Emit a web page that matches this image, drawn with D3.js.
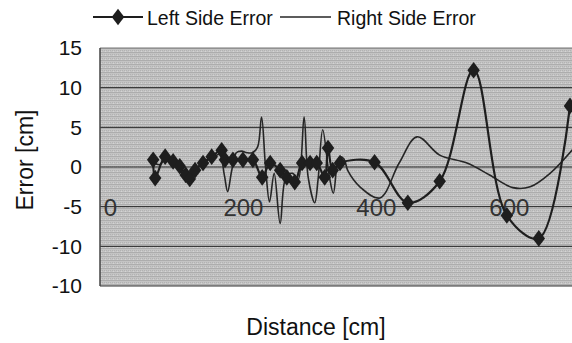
<!DOCTYPE html>
<html>
<head>
<meta charset="utf-8">
<script src="https://cdn.jsdelivr.net/npm/d3@7"></script>
<style>
  html, body { margin: 0; padding: 0; background: #fff; }
  svg { display: block; font-family: "Liberation Sans", Arial, Helvetica, sans-serif; }
</style>
</head>
<body>
<svg id="chart" width="572" height="343"></svg>
<script>
// ---- data ----
const leftDistance = [65, 68, 83, 95, 105, 114, 120, 128, 140, 153, 168, 173, 185, 200, 215, 229, 241, 256, 266, 278, 289, 301, 311, 323, 328, 335, 346, 398, 448, 496, 547, 597, 645, 692];
const leftError    = [0.9, -1.4, 1.3, 0.7, 0.1, -1.0, -1.5, -0.4, 0.5, 1.3, 2.1, 0.9, 0.9, 0.9, 0.9, -1.3, 0.5, -0.4, -1.3, -1.9, 0.5, 0.5, 0.5, -1.3, 2.4, -0.4, 0.5, 0.6, -4.5, -1.8, 12.2, -6.1, -9.0, 7.7];

const rightDistance = [65, 75, 85, 95, 105, 115, 125, 135, 145, 155, 165, 172, 177, 183, 190, 198, 206, 214, 222, 228, 234, 240, 247, 256, 265, 275, 283, 292, 298, 308, 313, 320, 330, 336, 342, 346, 352, 358, 376, 406, 435, 462, 496, 537, 571, 606, 632, 662, 700];
const rightError    = [0.6, 0.3, 1.2, 0.8, -0.3, -1.5, -0.5, 0.2, 0.8, 1.2, 1.6, -1.0, -3.1, -0.5, 1.8, 2.0, 1.8, 1.8, 2.5, 6.3, 0.0, -4.4, -0.8, -7.1, -1.2, -0.8, -1.6, 6.3, -1.2, -4.5, -1.6, 4.7, -1.2, -3.3, 0.5, 1.3, 1.0, -0.5, -2.5, -3.9, 0.5, 3.8, 1.5, 0.5, -1.0, -2.6, -2.5, -0.8, 2.6];

const seriesNames = ["Left Side Error", "Right Side Error"];
const yTickValues = [15, 10, 5, 0, -5, -10, -15];
const yTickLabels = ["15", "10", "5", "0", "-5", "-10", "-10"];
const xTickValues = [0, 200, 400, 600];
const xTitle = "Distance [cm]";
const yTitle = "Error [cm]";

// ---- layout ----
const svg = d3.select("#chart");
const plot = { left: 100, top: 48, right: 580, bottom: 286 };
const x = d3.scaleLinear().domain([-15, 695]).range([plot.left, 572]);
const y = d3.scaleLinear().domain([-15, 15]).range([plot.bottom, plot.top]);

const defs = svg.append("defs");
const pat = defs.append("pattern").attr("id", "hatch").attr("patternUnits", "userSpaceOnUse")
  .attr("width", 4).attr("height", 4);
pat.append("rect").attr("width", 4).attr("height", 4).attr("fill", "#c4c4c4");
pat.append("rect").attr("y", 0).attr("width", 4).attr("height", 1).attr("fill", "#adadad");
pat.append("rect").attr("x", 0).attr("y", 2).attr("width", 1).attr("height", 1).attr("fill", "#b2b2b2");
pat.append("rect").attr("x", 2).attr("y", 2).attr("width", 1).attr("height", 1).attr("fill", "#b2b2b2");
pat.append("rect").attr("x", 1).attr("y", 3).attr("width", 1).attr("height", 1).attr("fill", "#d4d4d4");
defs.append("clipPath").attr("id", "clip").append("rect")
  .attr("x", plot.left).attr("y", plot.top).attr("width", plot.right - plot.left).attr("height", plot.bottom - plot.top);

// plot area
svg.append("rect").attr("x", plot.left).attr("y", plot.top)
  .attr("width", plot.right - plot.left).attr("height", plot.bottom - plot.top)
  .attr("fill", "url(#hatch)");

// gridlines
svg.append("g").selectAll("line").data([10, 5, 0, -5, -10]).join("line")
  .attr("x1", plot.left).attr("x2", plot.right)
  .attr("y1", d => y(d)).attr("y2", d => y(d))
  .attr("stroke", "#222").attr("stroke-width", 1);
// border
svg.append("line").attr("x1", plot.left).attr("x2", plot.right).attr("y1", plot.top).attr("y2", plot.top)
  .attr("stroke", "#777").attr("stroke-width", 1.2);
svg.append("line").attr("x1", plot.left).attr("x2", plot.right).attr("y1", plot.bottom).attr("y2", plot.bottom)
  .attr("stroke", "#333").attr("stroke-width", 1.2);
svg.append("line").attr("x1", plot.left).attr("x2", plot.left).attr("y1", plot.top).attr("y2", plot.bottom)
  .attr("stroke", "#444").attr("stroke-width", 1.5);

// y axis
const yAxis = d3.axisLeft(y).tickValues(yTickValues)
  .tickFormat((d, i) => yTickLabels[i]).tickSize(0).tickPadding(18);
const gy = svg.append("g").attr("transform", `translate(${plot.left},0)`).call(yAxis);
gy.select(".domain").remove();
gy.selectAll("text").attr("font-size", 21).attr("fill", "#111")
  .attr("font-family", "Liberation Sans, Arial, sans-serif");

// x axis (labels sit on the -5 gridline, as in the reference)
const xAxis = d3.axisBottom(x).tickValues(xTickValues).tickFormat(d3.format("d")).tickSize(0).tickPadding(0);
const gx = svg.append("g").attr("transform", `translate(0,${y(-5)})`).call(xAxis);
gx.select(".domain").remove();
gx.selectAll("text").attr("font-size", 24).attr("fill", "#333").attr("dy", "0.35em").attr("y", 1)
  .attr("font-family", "Liberation Sans, Arial, sans-serif");

// series
const leftData = leftDistance.map((d, i) => [d, leftError[i]]);
const rightData = rightDistance.map((d, i) => [d, rightError[i]]);
const line = d3.line().x(d => x(d[0])).y(d => y(d[1])).curve(d3.curveCatmullRom.alpha(0.5));
const series = svg.append("g").attr("clip-path", "url(#clip)");
series.append("path").datum(rightData).attr("d", line)
  .attr("fill", "none").attr("stroke", "#262626").attr("stroke-width", 1.6);
series.append("path").datum(leftData).attr("d", line)
  .attr("fill", "none").attr("stroke", "#1e1e1e").attr("stroke-width", 2.2);
const diamond = d3.symbol().type(d3.symbolDiamond).size(80);
series.selectAll(".mk").data(leftData).join("path").attr("class", "mk")
  .attr("transform", d => `translate(${x(d[0])},${y(d[1])}) scale(1.3,1)`)
  .attr("d", diamond).attr("fill", "#1e1e1e");

// legend
const leg = svg.append("g");
leg.append("line").attr("x1", 93).attr("x2", 143).attr("y1", 17).attr("y2", 17).attr("stroke", "#1e1e1e").attr("stroke-width", 2);
leg.append("path").attr("transform", "translate(118,17) scale(1.3,1)").attr("d", diamond).attr("fill", "#1e1e1e");
leg.append("text").attr("x", 147).attr("y", 25).attr("font-size", 19.5).attr("fill", "#111").text(seriesNames[0]);
leg.append("line").attr("x1", 280).attr("x2", 331).attr("y1", 17).attr("y2", 17).attr("stroke", "#262626").attr("stroke-width", 1.6);
leg.append("text").attr("x", 337).attr("y", 25).attr("font-size", 19.5).attr("fill", "#111").text(seriesNames[1]);

// titles
svg.append("text").attr("x", 316).attr("y", 335).attr("text-anchor", "middle")
  .attr("font-size", 23).attr("fill", "#111").text(xTitle);
svg.append("text").attr("transform", "translate(33,160) rotate(-90)").attr("text-anchor", "middle")
  .attr("font-size", 23).attr("fill", "#111").text(yTitle);
</script>
</body>
</html>
